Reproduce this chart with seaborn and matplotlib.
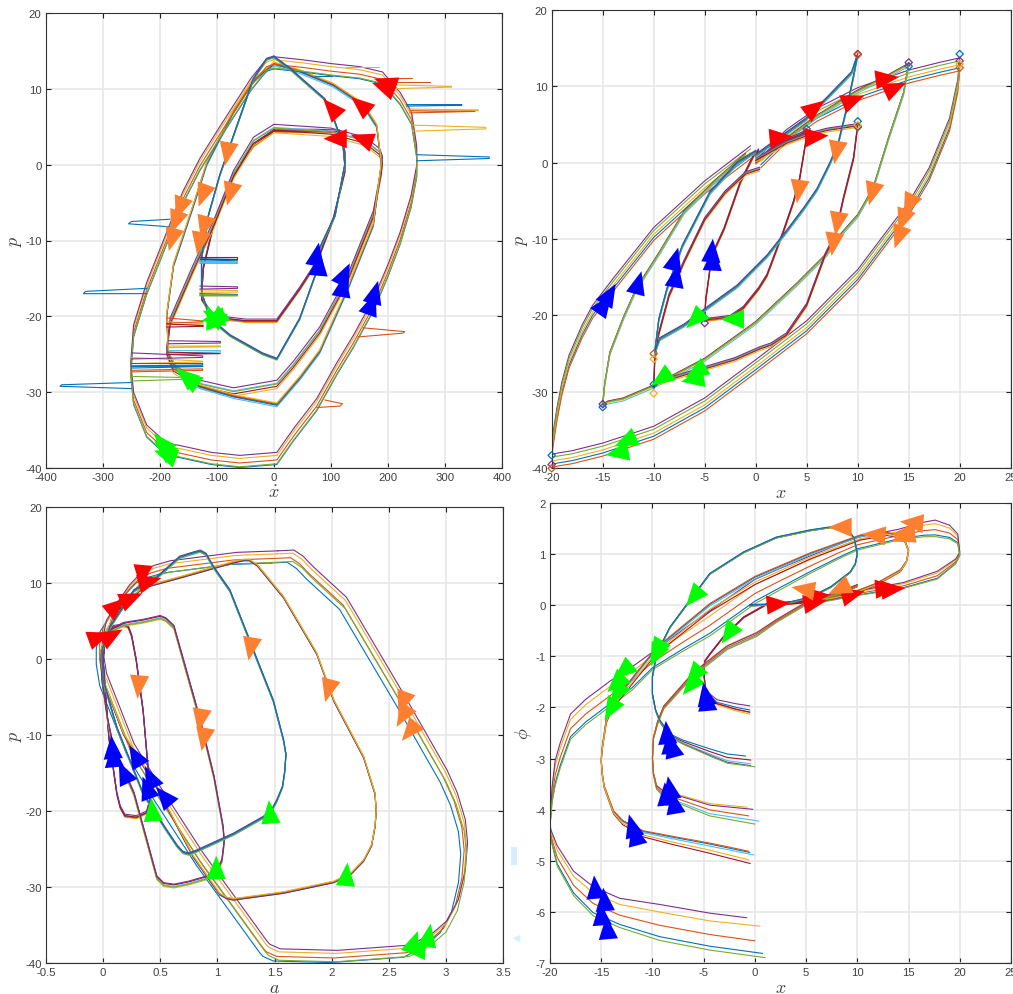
import matplotlib
matplotlib.use('Agg')
import matplotlib.pyplot as plt
from matplotlib.markers import MarkerStyle
from matplotlib.transforms import Affine2D
import numpy as np
import pandas as pd
import seaborn as sns

# line colours, one letter per run
LINE_COLORS = {'b': '#0072BD', 'r': '#D95319', 'y': '#EDB120', 'p': '#7E2F8E',
               'g': '#77AC30', 'c': '#4DBEEE', 'd': '#A2142F'}
ARROW_COLORS = {'R': '#FF0000', 'O': '#FF7F30', 'B': '#0000FF', 'G': '#00FF00'}

# ---- top left: xdot / p
P1_OUT_X = [0, 50, 100, 150, 190, 221, 241, 250, 250, 240, 221, 200, 174, 139, 110, 75, 34, 5, -60, -110, -165, -188, -223, -246, -251, -246, -223, -188, -160, -130, -100, -71, -40, -13, 0]
P1_OUT_Y = [13.3, 12.9, 12.4, 12, 11.3, 8.6, 6, 1.6, -1, -5, -9.8, -14, -18.6, -23.4, -27, -31.7, -35.7, -38.8, -39.2, -38.8, -37.9, -37.6, -35.2, -30.9, -27, -22, -16.4, -9.8, -4.5, -0.1, 3.5, 6.9, 10.5, 13, 13.3]
P1_OUT_RUNS = 'brypg'
P1_OUT_OFF = [-0.7, -0.1, 0.5, 0.9, -0.6]

P1_X15_X = [0, 45, 104, 156, 180, 188, 174, 127, 80, 45, 5, -71, -130, -170, -185, -188, -176, -141, -118, -71, -36, 0]
P1_X15_Y = [13.2, 12.2, 10.4, 7.8, 5, 0, -8, -16.8, -24.7, -28.2, -31.7, -30.6, -29.3, -27, -25, -19.9, -13.3, -5.4, 0, 6.9, 11, 13.2]
P1_X15_RUNS = 'cdbry'
P1_X15_OFF = [-0.2, 0.1, 0, 0.2, 0.3]

P1_X10B_X = [0, 30, 60, 89, 105, 121, 124, 107, 80, 75, 45, 5, -20, -77, -112, -127, -127, -115, -95, -71, -36, -13, 0]
P1_X10B_Y = [14.2, 12.5, 10.5, 8.6, 6, 2.5, 0, -6.7, -11, -14, -20.3, -25.6, -24.9, -22.5, -20.3, -16.8, -12.4, -6.7, -1.4, 3.8, 11.3, 13.9, 14.2]
P1_X10B_RUNS = 'dcpgb'
P1_X10B_OFF = [-0.05, -0.1, 0.1, -0.15, 0]

P1_X10S_X = [0, 100, 160, 185, 190, 188, 174, 127, 80, 34, 5, -71, -130, -176, -188, -182, -141, -106, -71, -36, 0]
P1_X10S_Y = [4.7, 4.2, 3, 1.5, 0.5, -1, -6.7, -15.5, -22, -26.5, -29, -30, -29, -27, -24.7, -20.8, -13.7, -8, -1.4, 3, 4.7]
P1_X10S_RUNS = 'ycgdp'
P1_X10S_OFF = [-0.5, 0.2, 0.1, -0.2, 0.6]

P1_X5_X = [0, 75, 115, 124, 124, 104, 75, 45, 5, -50, -106, -127, -124, -106, -71, -36, 0]
P1_X5_Y = [4.4, 4.4, 4.3, 1.6, -1, -7.2, -12.9, -16.4, -20.6, -20.6, -20.1, -17.7, -13.7, -8, -1.4, 2.5, 4.4]
P1_X5_RUNS = 'yrbdp'
P1_X5_OFF = [-0.2, -0.1, 0, 0.05, 0.25]

# spikes at the start of the runs
P1_STUB_X = [[127, 184], [72, 102], [209, 241], [209, 273], [209, 311, 311, 209], [232, 329, 329, 232],
             [238, 358, 358, 238], [238, 352, 352, 238], [243, 371, 371, 243], [250, 377, 377, 250],
             [-182, -250, -255, -182], [-223, -330, -334, -223], [-250, -372, -375, -250], [-250, -125, -125, -250],
             [-250, -125, -125, -250], [-250, -125, -125, -250], [-250, -125, -125, -250], [-250, -125, -125, -250],
             [-250, -125, -125, -250], [-185, -94, -94, -185], [-185, -94, -94, -185], [-185, -94, -94, -185], [-185, -94, -94, -185],
             [-188, -124, -124, -188], [-188, -124, -124, -188], [-188, -124, -124, -188],
             [-130, -64, -64, -130], [-130, -64, -64, -130], [-130, -64, -64, -130], [-130, -64, -64, -130],
             [-130, -64, -64, -130], [-130, -64, -64, -130], [-130, -64, -64, -130], [-130, -64, -64, -130],
             [156, 229, 226, 147], [89, 120, 116, 75]]
P1_STUB_Y = [[12.8, 12.8], [11.7, 11.7], [11.4, 11.4], [10.9, 10.9], [10.5, 10.3, 10.2, 10], [7.9, 7.9, 7.8, 7.7],
             [7.3, 7.2, 7.1, 6.9], [7.1, 7, 7, 6.8], [5.2, 4.9, 4.7, 4.4], [1.3, 1, 0.8, 0.5],
             [-7.2, -7.5, -7.8, -8.2], [-16.3, -16.7, -17, -17], [-28.7, -29, -29.2, -29.5], [-24.8, -25.2, -25.4, -25.6],
             [-25.4, -25.9, -26, -26.2], [-26.2, -26.2, -26.4, -26.5], [-26.6, -26.5, -26.6, -26.8], [-27.1, -26.9, -27.1, -27.3],
             [-27.9, -28.1, -28.2, -28.5], [-23.2, -23.3, -23.5, -23.6], [-23.9, -23.9, -24, -24.1], [-24.5, -24.5, -24.7, -24.8], [-24.7, -24.9, -24.9, -25],
             [-20.2, -20.6, -20.7, -20.9], [-20.7, -20.9, -21, -21.1], [-21, -21.2, -21.3, -21.4],
             [-12.2, -12.2, -12.4, -12.4], [-12.4, -12.5, -12.6, -12.7], [-12.7, -12.8, -12.9, -12.9], [-16, -16.1, -16.3, -16.4],
             [-16.5, -16.6, -16.8, -16.8], [-17, -17.1, -17.2, -17.2], [-17.1, -17.2, -17.3, -17.3], [-12.8, -12.9, -13, -13],
             [-21.5, -22, -22.2, -22.7], [-31, -31.5, -31.8, -32]]
P1_STUB_C = 'yb' 'rryb' 'yryb' 'bbbp' 'ybbrg' 'pycd' 'ryd' 'dbcp' 'ybgg' 'rr'

P1_ARROW_X = [100, 151, 191.5, 194.5, 107, 153.6, -82, -77, -125, -165, -173, -179, -123, -131, 75, 79, 124, 121, 177, 171, -107, -107, -103, -110, -156, -150, -197, -194, -191]
P1_ARROW_Y = [7.5, 7.9, 10.2, 10.8, 3.4, 3.4, 1.4, -3.9, -4.1, -5.8, -7.6, -9.9, -8.3, -10.4, -11.8, -13.1, -14.4, -15.9, -16.8, -18.3, -20, -20.3, -20.5, -20, -27.8, -28.2, -36.6, -37.4, -38.2]
P1_ARROW_A = [42, 50, 70, 70, 90, 70, 170, 165, 160, 160, 160, 165, 165, 170, -10, -5, -25, -10, -15, -20, 60, 100, 130, 20, 50, 55, 40, 50, 70]
P1_ARROW_C = 'RRRRRR' 'OOOOOOOO' 'BBBBBB' 'GGGG' 'GG' 'GGG'

# ---- top right: x / p
P2_OUT_X = [0.5, 3, 6, 10, 15, 18, 20, 19.8, 19, 17, 15, 13, 10, 5, 0, -5, -10, -15, -18, -19.4, -20, -19.9, -19.5, -19, -18.3, -17, -16, -14, -10, -5, -0.5]
P2_OUT_Y = [0.2, 3.5, 6.3, 9, 11.3, 12.3, 12.9, 10, 5, -1.5, -6, -9.5, -14.8, -21.5, -26.6, -31.6, -35.3, -37.5, -38.5, -38.8, -39, -36.5, -33, -29.5, -26, -22, -19.5, -16, -9.3, -3.2, 1.4]
P2_OUT_RUNS = 'brypg'
P2_OUT_OFF = [-0.5, -0.9, -0.1, 0.8, 0.4]

P2_X15_X = [0, 3, 6, 10, 13, 15, 14.5, 13, 11.5, 10, 8, 7, 4, 0, -5, -10, -13, -14.5, -15, -14.8, -14.3, -13, -11.7, -9.5, -7, -4, -1]
P2_X15_Y = [0, 3, 6, 9.3, 11.3, 12.8, 9, 3, -3.5, -7, -10, -12, -16, -21, -25.8, -29.3, -31, -31.4, -31.8, -29, -25, -20.5, -16.6, -12, -6.5, -2.5, 1]
P2_X15_RUNS = 'cdbyg'
P2_X15_OFF = [-0.2, 0.2, 0.1, 0, 0.1]

P2_X10B_X = [0, 3, 4.9, 7, 9.4, 10, 9.6, 8.9, 8.1, 7.3, 6, 4.7, 3, 1.1, -1.8, -4.8, -7, -9.4, -9.9, -9.5, -8.7, -7.2, -4.5, -1.8, 0]
P2_X10B_Y = [1, 3.9, 5.7, 8.5, 11.8, 14.2, 11.4, 7, 2.6, 0, -3.5, -6, -9, -12.2, -16.1, -19, -21.2, -23, -24.8, -20.5, -16.5, -10.9, -3.9, 0, 1.5]
P2_X10B_RUNS = 'dcpgb'
P2_X10B_OFF = [-0.2, -0.3, 0.1, -0.1, 0]

P2_X10S_X = [0, 3, 5, 7, 10, 9.6, 8.6, 7.8, 6.8, 5, 3, 1.5, 0.4, -2, -5, -9.9, -10, -9.9, -9.6, -8.5, -7, -5, -3, -1, 0.4]
P2_X10S_Y = [0.3, 2.5, 3.5, 4.2, 4.8, 0.5, -4.8, -9.6, -12.2, -18.7, -22.6, -23.9, -24.4, -25.8, -27, -29, -29.5, -26, -23, -17.5, -13, -7.5, -4, -1.5, -0.9]
P2_X10S_RUNS = 'ycgpd'
P2_X10S_OFF = [-0.2, 0.2, 0.1, 0.3, 0]

P2_X5_X = [0, 2, 3.5, 5, 4.9, 4.3, 3.7, 2.7, 1.1, 0.3, -1.2, -2.5, -5, -4.9, -4.3, -3.1, -1.5, -0.2, 0.3]
P2_X5_Y = [0, 2.3, 3.2, 4, 2.6, -2.2, -5.2, -9.1, -14.8, -16.5, -19, -20.2, -20.6, -18, -12.2, -8.7, -2.6, 0.9, 1.6]
P2_X5_RUNS = 'yrgpd'
P2_X5_OFF = [-0.2, -0.1, 0.1, 0.2, 0]

P2_DIAMOND_X = [20, 20, 20, 20, 15, 15, 10, 10, 10, 10, 10, 10, 5, 5, -5, -5, -10, -10, -10, -10, -15, -15, -20, -20, -20]
P2_DIAMOND_Y = [14.2, 13.3, 12.9, 12.4, 13.1, 12.6, 14.2, 14.1, 5.4, 4.9, 4.6, 4.7, 4.4, 3.9, -20.3, -21, -25, -25.7, -29, -30.2, -31.6, -32, -38.3, -39.5, -40]
P2_DIAMOND_C = 'bpyr' 'pb' 'dr' 'bygp' 'bp' 'bp' 'ry' 'by' 'pb' 'bpr'

P2_ARROW_X = [5.84, 9.6, 12.9, 13.7, 2.5, 6, 7.9, 4.2, 11.4, 8, 7.6, 15, 14.4, 14, -4.3, -4.2, -7.9, -7.8, -11.5, -14.3, -14.8, -6, -2.3, -9.3, -5.9, -6.2, -12.8, -13.6]
P2_ARROW_Y = [7.2, 8.2, 11, 9.8, 3.3, 3.4, 1.3, -3.8, -4.1, -8, -10.7, -5.6, -7.6, -9.8, -11.5, -12.6, -12.6, -14.8, -15.7, -17.2, -18.5, -20.6, -20.5, -28.3, -27.4, -28.4, -36.5, -38]
P2_ARROW_A = [-53, -68, -83, -65, -85, -85, 170, 172, 165, 170, 172, 155, 160, 160, -5, -3, -15, -10, -15, -30, -35, 135, 90, 125, 120, 100, 115, 100]
P2_ARROW_C = 'RRRRRR' 'OOOOOOOO' 'BBBBBBB' 'GGGGGGG'

# ---- bottom left: a / p
P3_OUT_X = [1.5, 1.64, 1.72, 1.81, 2.1, 2.6, 2.98, 3.07, 3.14, 3.16, 3.14, 3.08, 2.98, 2.85, 2.66, 2.02, 1.52, 1.43, 1.4, 0.85, 0.47, 0.24, 0, -0.03, -0.03, 0, 0.09, 0.2, 0.32, 0.42, 0.56, 1.14, 1.5]
P3_OUT_Y = [13.3, 13.4, 12.6, 11.2, 7.2, -5.5, -15.5, -18.5, -22, -25, -28.7, -32.5, -35.3, -37, -38.5, -39.2, -39, -38.4, -37.9, -26.5, -17.7, -12, -2.8, 0, 2, 4.2, 6.4, 8.8, 10.7, 11.4, 12, 13.1, 13.3]
P3_OUT_RUNS = 'brypg'
P3_OUT_OFF = [-0.7, -0.1, 0.5, 0.9, -0.6]
P3_OUT_DX = [-0.03, 0, 0.02, 0.03, 0.02]

P3_X15_X = [1.23, 1.28, 1.35, 1.58, 1.87, 2.02, 2.28, 2.38, 2.39, 2.38, 2.35, 2.28, 2.17, 2.02, 1.58, 1.14, 1.08, 1.02, 0.79, 0.47, 0.18, 0, -0.02, 0.09, 0.35, 0.67, 1.14, 1.23]
P3_X15_Y = [13, 13, 12.3, 8.1, 0.7, -5.5, -12.9, -17.7, -20, -22, -24.5, -26.5, -28.2, -29.3, -30.7, -31.6, -31.4, -30.9, -26, -16.9, -9.9, -2.8, 1, 5.9, 9.4, 10.7, 12.7, 13]
P3_X15_RUNS = 'cdbry'
P3_X15_OFF = [-0.1, -0.1, 0, 0.05, 0.1]

P3_X10B_X = [0.8, 0.85, 0.9, 0.97, 1.11, 1.26, 1.35, 1.49, 1.58, 1.6, 1.59, 1.57, 1.52, 1.47, 1.4, 1.14, 0.82, 0.75, 0.7, 0.65, 0.56, 0.35, 0.12, 0, -0.01, 0.06, 0.27, 0.47, 0.67, 0.8]
P3_X10B_Y = [14, 14.2, 13.8, 12, 9, 3.3, -0.2, -5.5, -10.7, -12.5, -14.7, -16.8, -18.6, -20, -20.8, -23, -25.2, -25.6, -25.4, -24.6, -22.6, -17.7, -9, -2.8, 1.1, 4.2, 9, 10.7, 13.4, 14]
P3_X10B_RUNS = 'dcpgb'
P3_X10B_OFF = [-0.1, -0.2, 0.1, -0.15, 0]

P3_X10S_X = [0.5, 0.55, 0.62, 0.85, 0.97, 1.05, 1.06, 1.04, 1, 0.91, 0.75, 0.62, 0.53, 0.47, 0.27, 0.09, 0.04, -0.01, -0.02, 0, 0.05, 0.18, 0.35, 0.5]
P3_X10S_Y = [5.5, 5.2, 4.2, -8.1, -15.5, -22.1, -24, -26.5, -27.8, -28.7, -29.4, -29.8, -29.6, -28.7, -17.7, -11.6, -8, -2.8, 0, 2.4, 3.6, 4.6, 5, 5.5]
P3_X10S_RUNS = 'ycgdp'
P3_X10S_OFF = [-0.3, -0.1, -0.2, 0.1, 0.2]

P3_X5_X = [0.19, 0.22, 0.25, 0.29, 0.35, 0.4, 0.41, 0.38, 0.29, 0.19, 0.15, 0.12, 0.05, 0, 0.02, 0.09, 0.19]
P3_X5_Y = [4.4, 4.2, 3, -0.2, -6.8, -15.5, -18.6, -20.2, -20.8, -20.6, -19.5, -17.7, -10.3, -0.2, 2.8, 4.2, 4.4]
P3_X5_RUNS = 'yrbdp'
P3_X5_OFF = [-0.2, -0.1, 0, 0, 0.2]

P3_ARROW_X = [0.34, 0.41, 0.25, 0.12, -0.03, 0.08, 0.31, 1.29, 1.97, 0.85, 0.88, 2.62, 2.62, 2.68, 0.08, 0.09, 0.28, 0.18, 0.41, 0.38, 0.53, 0.43, 1.46, 0.99, 2.13, 2.85, 2.72, 2.72]
P3_ARROW_Y = [10.8, 10.2, 8, 7, 2.9, 3.1, -3.7, 1.3, -4.2, -8.1, -10.6, -5.8, -7.6, -9.6, -11.6, -12.7, -12.7, -14.9, -15.5, -16.9, -18, -19.8, -20.1, -27.4, -28.3, -36.3, -37.2, -38.2]
P3_ARROW_A = [175, -75, -66, -50, -70, -60, 175, 170, 165, 170, 170, 160, 150, 140, 5, 5, 30, 25, 25, 20, 40, 5, 5, 0, -5, -10, -20, 85]
P3_ARROW_C = 'RRRRRR' 'OOOOOOOO' 'BBBBBBB' 'GGGGGGG'

# ---- bottom right: x / phi
P4_OUT_X = [0, -4.4, -9.3, -13.2, -15.8, -17.7, -19.3, -19.9, -20, -19.8, -19.5, -19, -18, -16.5, -14.1, -12, -10, -7, -4.4, 0, 2.5, 5.4, 8, 10, 14, 16.5, 17.6, 19, 19.8, 20, 19.6, 17.8, 14.5, 10.3, 5.4]
P4_OUT_Y = [-6.52, -6.4, -6.22, -6.03, -5.8, -5.45, -4.91, -4.5, -4.3, -3.72, -3.3, -2.95, -2.39, -2.1, -1.74, -1.45, -1.1, -0.7, -0.37, 0.25, 0.5, 0.78, 1.02, 1.19, 1.37, 1.47, 1.49, 1.42, 1.29, 1.0, 0.85, 0.58, 0.38, 0.24, 0.06]
P4_OUT_FAN = [0.41, 0.38, 0.37, 0.3, 0.3, 0.25, 0.21, 0.1, 0.02, 0.16, 0.26, 0.26, 0.26, 0.26, 0.26, 0.24, 0.18, 0.22, 0.26, 0.25, 0.22, 0.18, 0.15, 0.13, 0.11, 0.15, 0.17, 0.14, 0.1, 0.03, 0.05, 0.08, 0.06, 0.05, 0.05]
P4_OUT_RUNS = 'brypg'
P4_OUT_K = [-0.7, -0.1, 0.6, 1, -0.9]
P4_OUT_X0 = [0.75, 0, 0.5, -0.8, 1]

P4_X15_X = [0, -4.4, -8, -10.9, -12.9, -13.8, -14.7, -14.9, -15, -14.9, -14.5, -14, -12.2, -9.6, -4.4, 0, 5.4, 10.3, 12.9, 14.5, 15, 14.8, 14.2, 11.9, 9.3, 7]
P4_X15_Y = [-4.93, -4.75, -4.6, -4.47, -4.25, -4.05, -3.56, -3.3, -3.04, -2.8, -2.26, -2, -1.54, -0.89, -0.05, 0.48, 0.96, 1.32, 1.39, 1.32, 1.06, 0.85, 0.67, 0.41, 0.21, 0.12]
P4_X15_FAN = [0.12, 0.1, 0.08, 0.06, 0.04, 0.03, 0.02, 0.02, 0.03, 0.03, 0.05, 0.05, 0.06, 0.06, 0.08, 0.08, 0.06, 0.05, 0.03, 0.02, 0.01, 0.01, 0.02, 0.02, 0.02, 0.02]
P4_X15_RUNS = 'cdbry'
P4_X15_K = [0.4, -1, 0.8, 1, -0.4]
P4_X15_X0 = [-0.1, -0.45, -0.5, -0.6, -0.6]

P4_X10B_X = [0, -2.7, -4.4, -7, -8.3, -9.3, -9.7, -10, -10, -9.6, -8.3, -6.6, -4.4, -1.1, 2.1, 5.4, 7.4, 9.2, 9.7, 10, 9.8, 9.3, 7.4, 5.4, 2.8, -0.5]
P4_X10B_Y = [-3.055, -3.0, -2.88, -2.68, -2.55, -2.26, -2.05, -1.74, -1.4, -0.96, -0.44, 0.02, 0.61, 1.03, 1.32, 1.46, 1.52, 1.44, 1.3, 1.0, 0.8, 0.64, 0.35, 0.15, 0.02, -0.01]
P4_X10B_FAN = [0.105, 0.09, 0.07, 0.04, 0.03, 0.02, 0.01, 0.01, 0.01, 0.01, 0.01, 0.01, 0.01, 0.01, 0.01, 0.01, 0.01, 0.01, 0.01, 0.01, 0.01, 0.01, 0.01, 0.01, 0.01, 0.01]
P4_X10B_RUNS = 'dcpgb'
P4_X10B_K = [0.25, -0.45, -0.8, -1, 1]
P4_X10B_X0 = [-0.4, -0.4, -0.4, 0, -0.9]

P4_X10S_X = [0, -4.4, -7, -8.9, -9.6, -9.9, -10, -9.9, -9.5, -8.9, -6, -2.7, 0.2, 2.1, 4.9, 8.7, 10, 9.2]
P4_X10S_Y = [-4.115, -4.0, -3.82, -3.69, -3.56, -3.3, -3.0, -2.6, -2.3, -2, -1.35, -0.83, -0.57, -0.31, 0.02, 0.28, 0.38, 0.3]
P4_X10S_FAN = [0.165, 0.12, 0.09, 0.06, 0.04, 0.02, 0.02, 0.02, 0.03, 0.03, 0.04, 0.04, 0.04, 0.03, 0.03, 0.02, 0.02, 0.02]
P4_X10S_RUNS = 'ypcgr'
P4_X10S_K = [1, 0.75, -0.64, -1, -0.03]
P4_X10S_X0 = [-0.75, -0.2, 0.4, 0, -0.6]

P4_X5_X = [0, -1.8, -3.7, -4.5, -4.85, -5, -4.9, -4.4, -3.1, -1.1, 1.2, 4.8, 5, 3, -0.5]
P4_X5_Y = [-2.05, -2.0, -1.9, -1.75, -1.61, -1.28, -1.1, -0.96, -0.63, -0.24, 0.02, 0.08, 0.05, 0.02, 0.0]
P4_X5_FAN = [0.08, 0.07, 0.05, 0.03, 0.02, 0.01, 0.01, 0.01, 0.01, 0.01, 0.01, 0.01, 0.01, 0.01, 0.01]
P4_X5_RUNS = 'ybrpd'
P4_X5_K = [-1, 0, -0.6, 1, -0.5]
P4_X5_X0 = [-0.5, -0.5, -0.5, -0.5, -0.5]

P4_ARROW_X = [2.3, 5.9, 6.2, 9.6, 12.9, 13.5, 8.3, 11.6, 14.4, 15.3, 14.5, 4.7, 8.2, -6, -2.6, -9.6, -9.7, -6, -6.3, -12.9, -13.6, -14.1, -13.5, -4.85, -4.7, -8.6, -8.3, -8.1, -8.3, -7.9, -8.7, -12, -11.7, -15.6, -14.7, -15, -14.4]
P4_ARROW_Y = [0.02, 0.05, 0.18, 0.21, 0.33, 0.31, 1.52, 1.37, 1.32, 1.61, 1.4, 0.31, 0.31, 0.15, -0.57, -0.89, -0.99, -1.38, -1.58, -1.3, -1.54, -2.05, -1.75, -1.74, -1.84, -2.49, -2.68, -2.75, -3.57, -3.85, -3.69, -4.31, -4.47, -5.51, -5.75, -6.03, -6.3]
P4_ARROW_A = [-85, -80, -85, -75, -85, -85, 90, 85, 110, 85, 95, 80, 115, 140, 145, 150, 155, 140, 140, 130, 135, 150, 150, 10, 5, 5, 5, 15, 10, 10, 5, 15, 15, 5, 5, 5, 5]
P4_ARROW_C = 'RRRRRR' 'OOOOOOO' 'GGGGGGGGGG' 'BBBBBBBBBBBBBB'

# pale smudges left of the lower right frame
SMUDGE_X = [-23.5, -23.3]
SMUDGE_Y = [-4.9, -6.5]

P1_X_TICKS = [-400, -300, -200, -100, 0, 100, 200, 300, 400]
P_Y_TICKS = [-40, -30, -20, -10, 0, 10, 20]
P3_X_TICKS = [-0.5, 0, 0.5, 1, 1.5, 2, 2.5, 3, 3.5]
P3_X_LABELS = ['-0.5', '0', '0.5', '1', '1.5', '2', '2.5', '3', '3.5']
P24_X_TICKS = [-20, -15, -10, -5, 0, 5, 10, 15, 20, 25]
P4_Y_TICKS = [-7, -6, -5, -4, -3, -2, -1, 0, 1, 2]

W, H = 1013, 995


def make_axes(left, top, right, bottom):
    return fig.add_axes([left / W, 1 - bottom / H, (right - left) / W, (bottom - top) / H])


def draw_family(ax, xs, ys, runs, off, fan=None, x0=None, dx=None):
    rows = []
    for i, run in enumerate(runs):
        x = np.array(xs, dtype=float)
        y = np.array(ys, dtype=float)
        if fan is None:
            y = y + off[i]
        else:
            y = y + off[i] * np.array(fan)
        if dx is not None:
            x = x + dx[i]
        if x0 is not None:
            x[0] = x0[i]
        rows.append(pd.DataFrame({'x': x, 'y': y, 'run': run}))
    df = pd.concat(rows)
    sns.lineplot(data=df, x='x', y='y', hue='run', hue_order=list(runs), units='run', estimator=None,
                 sort=False, palette=LINE_COLORS, legend=False, linewidth=0.8, ax=ax)


def draw_arrows(ax, xs, ys, angles, colors):
    for x, y, a, c in zip(xs, ys, angles, colors):
        m = MarkerStyle('^', transform=Affine2D().scale(0.82, 1.0).rotate_deg(a))
        sns.scatterplot(x=[x], y=[y], marker=m, s=285, color=ARROW_COLORS[c], linewidth=0,
                        edgecolor='none', legend=False, ax=ax, zorder=5)


def finish(ax, xlim, ylim, xticks, yticks, xlabel, ylabel, xlabels=None):
    ax.set_xlim(xlim)
    ax.set_ylim(ylim)
    ax.set_xticks(xticks)
    ax.set_yticks(yticks)
    if xlabels is not None:
        ax.set_xticklabels(xlabels)
    ax.set_xlabel(xlabel, fontsize=13, color='#404040', labelpad=1)
    ax.set_ylabel(ylabel, fontsize=13, color='#404040', labelpad=1)
    ax.grid(True, color='#e6e6e6', linewidth=1.1)
    ax.set_axisbelow(True)
    ax.tick_params(direction='in', length=3.6, width=0.8, top=True, right=True, labelsize=8.2,
                   color='#222222', labelcolor='#404040', pad=3)
    for s in ax.spines.values():
        s.set_color('#333333')
        s.set_linewidth(0.8)


sns.set_theme(style='ticks')
plt.rcParams['font.family'] = ['Liberation Sans', 'DejaVu Sans']
plt.rcParams['mathtext.fontset'] = 'cm'
plt.rcParams['axes.unicode_minus'] = False

fig = plt.figure(figsize=(W / 100, H / 100), dpi=100)

ax1 = make_axes(45.7, 13.7, 502.3, 469.3)
draw_family(ax1, P1_X5_X, P1_X5_Y, P1_X5_RUNS, P1_X5_OFF)
draw_family(ax1, P1_X10S_X, P1_X10S_Y, P1_X10S_RUNS, P1_X10S_OFF)
draw_family(ax1, P1_X15_X, P1_X15_Y, P1_X15_RUNS, P1_X15_OFF)
draw_family(ax1, P1_OUT_X, P1_OUT_Y, P1_OUT_RUNS, P1_OUT_OFF)
draw_family(ax1, P1_X10B_X, P1_X10B_Y, P1_X10B_RUNS, P1_X10B_OFF)
stubs = pd.concat([pd.DataFrame({'x': sx, 'y': sy, 'run': c, 'id': i})
                   for i, (sx, sy, c) in enumerate(zip(P1_STUB_X, P1_STUB_Y, P1_STUB_C))])
sns.lineplot(data=stubs, x='x', y='y', hue='run', units='id', estimator=None, sort=False,
             palette=LINE_COLORS, legend=False, linewidth=0.8, ax=ax1)
draw_arrows(ax1, P1_ARROW_X, P1_ARROW_Y, P1_ARROW_A, P1_ARROW_C)
finish(ax1, (-400, 400), (-40, 20), P1_X_TICKS, P_Y_TICKS, r'$\dot{x}$', r'$p$')

ax2 = make_axes(551.7, 10.7, 1010.7, 469.3)
draw_family(ax2, P2_OUT_X, P2_OUT_Y, P2_OUT_RUNS, P2_OUT_OFF)
draw_family(ax2, P2_X15_X, P2_X15_Y, P2_X15_RUNS, P2_X15_OFF)
draw_family(ax2, P2_X5_X, P2_X5_Y, P2_X5_RUNS, P2_X5_OFF)
draw_family(ax2, P2_X10S_X, P2_X10S_Y, P2_X10S_RUNS, P2_X10S_OFF)
draw_family(ax2, P2_X10B_X, P2_X10B_Y, P2_X10B_RUNS, P2_X10B_OFF)
diamonds = pd.DataFrame({'x': P2_DIAMOND_X, 'y': P2_DIAMOND_Y, 'run': list(P2_DIAMOND_C)})
for run, part in diamonds.groupby('run'):
    ax2.scatter(part['x'], part['y'], marker='D', s=14, facecolors='none', edgecolors=LINE_COLORS[run],
                linewidths=0.9, clip_on=False, zorder=4)
draw_arrows(ax2, P2_ARROW_X, P2_ARROW_Y, P2_ARROW_A, P2_ARROW_C)
finish(ax2, (-20, 25), (-40, 20), P24_X_TICKS, P_Y_TICKS, r'$x$', r'$p$')

ax3 = make_axes(46, 507.7, 503, 964.3)
draw_family(ax3, P3_OUT_X, P3_OUT_Y, P3_OUT_RUNS, P3_OUT_OFF, dx=P3_OUT_DX)
draw_family(ax3, P3_X5_X, P3_X5_Y, P3_X5_RUNS, P3_X5_OFF)
draw_family(ax3, P3_X10S_X, P3_X10S_Y, P3_X10S_RUNS, P3_X10S_OFF)
draw_family(ax3, P3_X15_X, P3_X15_Y, P3_X15_RUNS, P3_X15_OFF)
draw_family(ax3, P3_X10B_X, P3_X10B_Y, P3_X10B_RUNS, P3_X10B_OFF)
draw_arrows(ax3, P3_ARROW_X, P3_ARROW_Y, P3_ARROW_A, P3_ARROW_C)
finish(ax3, (-0.5, 3.5), (-40, 20), P3_X_TICKS, P_Y_TICKS, r'$a$', r'$p$', xlabels=P3_X_LABELS)

ax4 = make_axes(550, 503.7, 1011, 964.3)
draw_family(ax4, P4_OUT_X, P4_OUT_Y, P4_OUT_RUNS, P4_OUT_K, fan=P4_OUT_FAN, x0=P4_OUT_X0)
draw_family(ax4, P4_X15_X, P4_X15_Y, P4_X15_RUNS, P4_X15_K, fan=P4_X15_FAN, x0=P4_X15_X0)
draw_family(ax4, P4_X5_X, P4_X5_Y, P4_X5_RUNS, P4_X5_K, fan=P4_X5_FAN, x0=P4_X5_X0)
draw_family(ax4, P4_X10S_X, P4_X10S_Y, P4_X10S_RUNS, P4_X10S_K, fan=P4_X10S_FAN, x0=P4_X10S_X0)
draw_family(ax4, P4_X10B_X, P4_X10B_Y, P4_X10B_RUNS, P4_X10B_K, fan=P4_X10B_FAN, x0=P4_X10B_X0)
draw_arrows(ax4, P4_ARROW_X, P4_ARROW_Y, P4_ARROW_A, P4_ARROW_C)
finish(ax4, (-20, 25), (-7, 2), P24_X_TICKS, P4_Y_TICKS, r'$x$', r'$\phi$')
smudge_marks = [MarkerStyle('s', transform=Affine2D().scale(0.45, 1.5)), MarkerStyle('<')]
for sx, sy, mk, size in zip(SMUDGE_X, SMUDGE_Y, smudge_marks, [70, 30]):
    ax4.scatter([sx], [sy], marker=mk, s=size, color='#d5f0fc', linewidths=0, clip_on=False)

fig.savefig('out.png', dpi=100)
